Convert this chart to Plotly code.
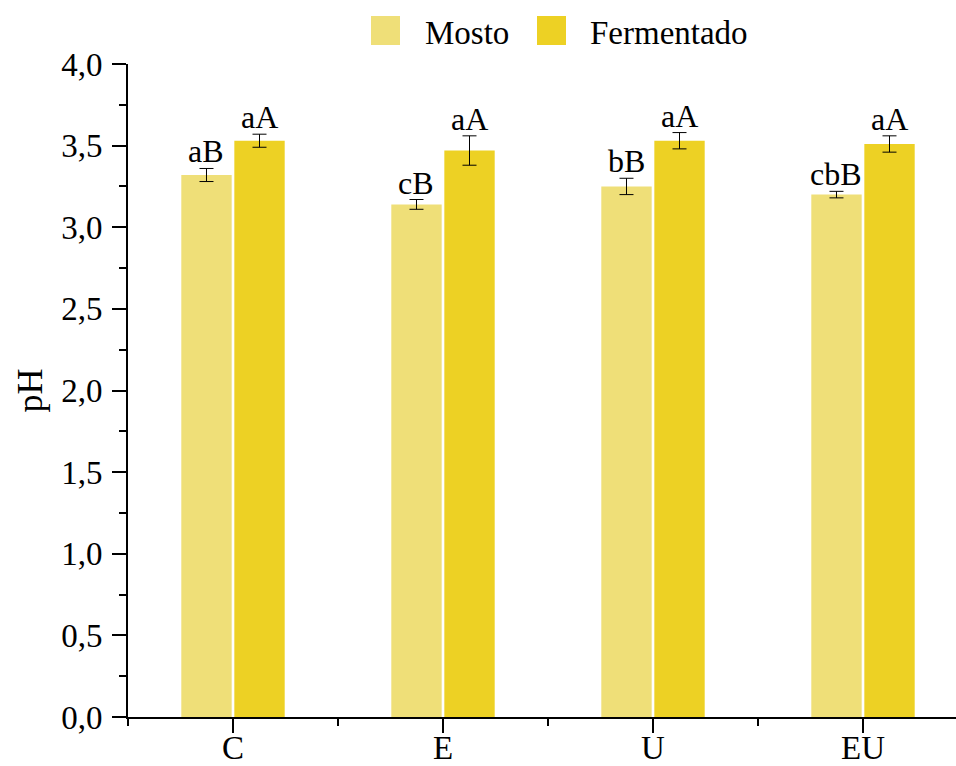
import plotly.graph_objects as go

# Treatments and measured pH (mean ± sd)
treatments = ["C", "E", "U", "EU"]
mosto_ph = [3.32, 3.14, 3.25, 3.20]
mosto_sd = [0.04, 0.03, 0.05, 0.02]
ferm_ph = [3.53, 3.47, 3.53, 3.51]
ferm_sd = [0.04, 0.09, 0.05, 0.05]
mosto_letters = ["aB", "cB", "bB", "cbB"]
ferm_letters = ["aA", "aA", "aA", "aA"]
y_ticks = [0.0, 0.5, 1.0, 1.5, 2.0, 2.5, 3.0, 3.5, 4.0]

MOSTO_COLOR = "#EFDF78"
FERM_COLOR = "#EDD124"
FONT = "Liberation Serif, Times New Roman, serif"

BARGAP = 0.495
x_pos = list(range(len(treatments)))
slot = (1 - BARGAP) / 2  # width of one bar slot in axis units

fig = go.Figure()
fig.add_trace(go.Bar(
    x=x_pos, y=mosto_ph, name="Mosto", marker_color=MOSTO_COLOR,
    marker_line_width=0,
    error_y=dict(type="data", array=mosto_sd, color="black", thickness=1, width=7),
))
fig.add_trace(go.Bar(
    x=x_pos, y=ferm_ph, name="Fermentado", marker_color=FERM_COLOR,
    marker_line_width=0,
    error_y=dict(type="data", array=ferm_sd, color="black", thickness=1, width=7),
))

# significance letters above the error bars
annotations = []
for i in x_pos:
    annotations.append(dict(x=i - slot / 2, y=mosto_ph[i] + mosto_sd[i], text=mosto_letters[i],
                            xref="x", yref="y", showarrow=False, yanchor="bottom", yshift=-3,
                            font=dict(family=FONT, size=32, color="black")))
    annotations.append(dict(x=i + slot / 2, y=ferm_ph[i] + ferm_sd[i], text=ferm_letters[i],
                            xref="x", yref="y", showarrow=False, yanchor="bottom", yshift=-3,
                            font=dict(family=FONT, size=32, color="black")))

# legend drawn as large swatches with labels above the plot
shapes = []
legend_items = [("Mosto", MOSTO_COLOR, 371, 423), ("Fermentado", FERM_COLOR, 537, 588)]
W, H = 956, 766
L, R, T, B = 128, 0, 64, 49
pw, ph = W - L - R, H - T - B
def px_x(px):
    return (px - L) / pw
def px_y(py):
    return (H - B - py) / ph
for label, color, sx, tx in legend_items:
    shapes.append(dict(type="rect", xref="paper", yref="paper",
                       x0=px_x(sx), x1=px_x(sx + 29), y0=px_y(45), y1=px_y(16),
                       fillcolor=color, line_width=0))
    annotations.append(dict(x=px_x(tx), y=px_y(33), xref="paper", yref="paper", text=label,
                            showarrow=False, xanchor="left", yanchor="middle",
                            font=dict(family=FONT, size=33, color="black")))

fig.update_layout(
    width=W, height=H,
    margin=dict(l=L, r=R, t=T, b=B, pad=0),
    paper_bgcolor="white", plot_bgcolor="white",
    barmode="group", bargap=BARGAP, bargroupgap=0.05,
    showlegend=False,
    separators=",.",
    font=dict(family=FONT, size=33, color="black"),
    annotations=annotations, shapes=shapes,
    xaxis=dict(
        range=[-0.5, -0.5 + pw / 210], tickmode="array", tickvals=x_pos, ticktext=treatments,
        showline=True, linecolor="black", linewidth=2, showgrid=False, zeroline=False,
        ticks="outside", ticklen=14, tickwidth=1.5, tickcolor="black",
        ticklabelstandoff=-14, automargin=False,
        minor=dict(tickmode="array", tickvals=[-0.5, 0.5, 1.5, 2.5], ticks="outside",
                   ticklen=7, tickwidth=1.5, tickcolor="black", showgrid=False),
        tickfont=dict(family=FONT, size=33),
    ),
    yaxis=dict(
        range=[0, 4.0], tickmode="array", tickvals=y_ticks, tickformat=".1f",
        showline=True, linecolor="black", linewidth=2, showgrid=False, zeroline=False,
        ticks="outside", ticklen=14, tickwidth=1.5, tickcolor="black",
        ticklabelstandoff=3, automargin=False,
        minor=dict(dtick=0.25, tick0=0, ticks="outside", ticklen=7, tickwidth=1.5,
                   tickcolor="black", showgrid=False),
        tickfont=dict(family=FONT, size=33),
        title=dict(text="pH", font=dict(family=FONT, size=36), standoff=8),
    ),
)

fig.write_html("out.html")
